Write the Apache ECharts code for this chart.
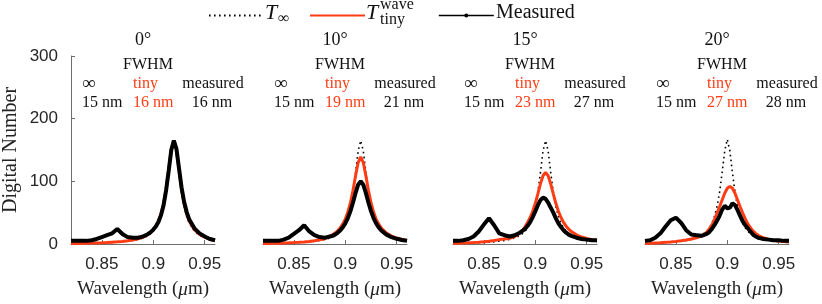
<!DOCTYPE html>
<html><head><meta charset="utf-8">
<script src="https://cdn.jsdelivr.net/npm/echarts@6/dist/echarts.min.js"></script>
<style>html,body{margin:0;padding:0;background:#fff}#c{width:822px;height:304px}</style>
</head><body><div id="c"></div>
<script>
// ---------- data ----------
const wavelength = [0.820,0.825,0.830,0.835,0.840,0.845,0.850,0.855,0.860,0.865,0.870,0.875,0.880,
  0.8825,0.885,0.8875,0.890,0.8925,0.895,0.8975,0.900,0.9025,0.905,0.9075,0.910,0.9125,0.915,0.9175,0.920,0.9225,0.925,0.9275,0.930,0.9325,0.935,
  0.940,0.945,0.950,0.955,0.960];
const angleLabels = ['0°','10°','15°','20°'];
const fwhmInf = [15,15,15,15];
const fwhmTiny = [16,19,23,27];
const fwhmMeasured = [16,21,27,28];
const xTicks = [0.85,0.9,0.95];
const yTicks = [0,100,200,300];

// 0 deg
const tInf0 = [0.9,1.0,1.1,1.3,1.4,1.6,1.9,2.2,2.5,3.0,3.6,4.5,5.6,6.3,7.2,8.3,9.7,11.4,13.6,16.5,20.3,25.6,33,43.7,59.4,82.5,114,148.5,165,148.5,114,82.5,59.4,43.7,33,20.3,13.6,9.7,7.2,5.6];
const tTiny0 = [0.5,0.7,0.9,1.1,1.4,1.7,2.0,2.4,2.9,3.4,4.1,5.1,6.4,7.2,8.2,9.4,11.0,12.9,15.3,18.5,22.8,28.5,36.5,48,64.4,87.8,118.7,150.3,165,150.3,118.7,87.8,64.4,48,36.5,22.8,15.3,11.0,7.5,5.5];
const meas0 = [5,5,5,5,6,8,11,14,17,24,16,11,10,10,10,11,12,14,16,19,23,28,35,46,62,86,117,150,165,152,121,90,67,51,39,25,17,12,8,6];
// 10 deg
const tInf1 = [1.0,1.1,1.3,1.4,1.6,1.9,2.2,2.5,3.0,3.6,4.5,5.6,7.2,8.3,9.7,11.4,13.6,16.5,20.3,25.6,33,43.7,59.4,82.5,114,148.5,165,148.5,114,82.5,59.4,43.7,33,25.6,20.3,13.6,9.7,7.2,5.6,4.5];
const tTiny1 = [0.6,0.8,1.0,1.2,1.5,1.8,2.2,2.7,3.3,4.1,5.2,6.8,8.5,10.2,12.2,14.5,17.5,21.0,25.6,31.7,39.8,50.9,65.9,85.6,108.8,130,139,130,108.8,85.6,65.9,50.9,39.8,31.7,25.6,17.5,12.7,9.5,7.2,5.6];
const meas1 = [5,5,5,5,7,10,16,22,30,20,14,11,10,11,12,13,15,17.9,21.6,26.5,32.9,41.4,52.4,66.2,81.5,94.6,100,94.6,81.5,66.2,52.4,41.4,32.9,26.5,21.6,15,10.9,8.3,6.4,5.2];
// 15 deg
const tInf2 = [1.1,1.3,1.4,1.6,1.9,2.2,2.5,3.0,3.6,4.5,5.6,7.2,9.7,11.4,13.6,16.5,20.3,25.6,33,43.7,59.4,82.5,114,148.5,165,148.5,114,82.5,59.4,43.7,33,25.6,20.3,16.5,13.6,9.7,7.2,5.6,4.5,3.6];
const tTiny2 = [0.8,1.1,1.4,1.8,2.3,2.9,3.6,4.5,5.7,7.0,8.0,9.0,12.0,14.5,17.5,21.5,27.5,34.4,42.2,52.3,64.9,80,95.9,108.9,114,108.9,95.9,80,64.9,52.3,42.2,34.4,28.4,23.6,19.9,14.6,11.1,8.7,7.0,5.7];
const meas2 = [5,5,6,8,12,20,31,41,30,17,14,12,14,16,18,21,24,29,35,43,52,62,70,74,72,66,58,50,41,33,27,22,18,15,13,10,8,7,6,6];
// 20 deg
const tInf3 = [1.4,1.6,1.9,2.2,2.5,3.0,3.6,4.5,5.6,7.2,9.7,13.6,20.3,25.6,33,43.7,59.4,82.5,114,148.5,167,148.5,114,82.5,59.4,43.7,33,25.6,20.3,16.5,13.6,11.4,9.7,8.3,7.2,5.6,4.5,3.6,3.0,2.5];
const tTiny3 = [0.6,1.0,1.5,2.0,2.6,3.3,4.2,5.2,6.5,8,10,13,19,24,30,39,49.5,59.4,70.3,80.9,88.9,92,88.9,80.9,70.3,59.4,49.5,40,32,26,21,17,14,12,10,7.5,5.8,4.6,3.8,3.2];
const meas3 = [5,6,10,17,28,38,42,34,22,15,14,13,16,19,24,30,37,45,55,61,57,58,65,62,54,45,36,30,25,20,15,12,10,9,8,7,6,6,5,5];

const tInfAll = [tInf0,tInf1,tInf2,tInf3];
const tTinyAll = [tTiny0,tTiny1,tTiny2,tTiny3];
const measAll = [meas0,meas1,meas2,meas3];

// ---------- layout / style ----------
const RED = '#ff3c14';
const SERIF = 'Liberation Serif';
const SANS = 'Liberation Sans';
const lefts = [71, 263, 453, 645];
const GW = 144, GT = 56, GH = 191;
const AX = '#6e6e6e';

const pairs = arr => wavelength.map((w,i)=>[w, arr[i]]);

const grids = [], xAxes = [], yAxes = [], series = [], graphics = [];
lefts.forEach((L,p)=>{
  grids.push({left:L, top:GT, width:GW, height:GH, containLabel:false});
  xAxes.push({
    gridIndex:p, type:'value', min:0.82, max:0.96,
    axisLine:{show:true, onZero:false, lineStyle:{color:AX, width:1}},
    axisTick:{show:true, inside:true, length:4, customValues:xTicks, lineStyle:{color:AX}},
    axisLabel:{customValues:xTicks, fontFamily:SANS, fontSize:17, color:'#262626', margin:12,
      formatter: v => String(v)},
    splitLine:{show:false},
    name:'{n|Wavelength (}{i|μ}{n|m)}', nameLocation:'middle', nameGap:36,
    nameTextStyle:{rich:{
      n:{fontFamily:SERIF, fontSize:19, color:'#222'},
      i:{fontFamily:SERIF, fontSize:19, fontStyle:'italic', color:'#222'}}}
  });
  if (p===0) {
    yAxes.push({gridIndex:p, type:'value', min:0, max:300, interval:100,
      axisLine:{show:true, lineStyle:{color:AX, width:1}},
      axisTick:{show:true, inside:true, length:4, lineStyle:{color:AX}},
      axisLabel:{fontFamily:SANS, fontSize:17, color:'#262626', margin:13},
      splitLine:{show:false},
      name:'Digital Number', nameLocation:'middle', nameGap:50,
      nameTextStyle:{fontFamily:SERIF, fontSize:20, color:'#222'}});
  } else {
    yAxes.push({gridIndex:p, type:'value', min:0, max:300, show:false, splitLine:{show:false}});
  }
  series.push({name:'Tinf', type:'line', xAxisIndex:p, yAxisIndex:p, data:pairs(tInfAll[p]),
    symbol:'none', lineStyle:{color:'#000', width:1.6, type:[1.6,3.4]}, itemStyle:{color:'#000'}, z:2});
  series.push({name:'Ttiny', type:'line', xAxisIndex:p, yAxisIndex:p, data:pairs(tTinyAll[p]),
    symbol:'none', lineStyle:{color:RED, width:3}, itemStyle:{color:RED}, z:3});
  series.push({name:'Measured', type:'line', xAxisIndex:p, yAxisIndex:p, data:pairs(measAll[p]),
    symbol:'circle', symbolSize:4, showSymbol:false, lineStyle:{color:'#000', width:4},
    itemStyle:{color:'#000'}, z:4});

  const tf = {fontFamily:SERIF, fontSize:16, fill:'#111'};
  graphics.push({type:'text', x:L+72, y:40, style:Object.assign({}, tf, {text:angleLabels[p], fontSize:18, align:'center', verticalAlign:'middle'})});
  graphics.push({type:'text', x:L+77, y:65, style:Object.assign({}, tf, {text:'FWHM', align:'center', verticalAlign:'middle'})});
  graphics.push({type:'text', x:L+11, y:84, style:Object.assign({}, tf, {text:'∞', fontSize:19, align:'left', verticalAlign:'middle'})});
  graphics.push({type:'text', x:L+62, y:84, style:Object.assign({}, tf, {text:'tiny', fill:RED, align:'left', verticalAlign:'middle'})});
  graphics.push({type:'text', x:L+142, y:84, style:Object.assign({}, tf, {text:'measured', align:'center', verticalAlign:'middle'})});
  graphics.push({type:'text', x:L+11, y:103, style:Object.assign({}, tf, {text:fwhmInf[p]+' nm', align:'left', verticalAlign:'middle'})});
  graphics.push({type:'text', x:L+62, y:103, style:Object.assign({}, tf, {text:fwhmTiny[p]+' nm', fill:RED, align:'left', verticalAlign:'middle'})});
  graphics.push({type:'text', x:L+141, y:103, style:Object.assign({}, tf, {text:fwhmMeasured[p]+' nm', align:'center', verticalAlign:'middle'})});
});

// legend labels (math-style text)
graphics.push({type:'text', x:265, y:13, style:{text:'T', fontFamily:SERIF, fontStyle:'italic', fontSize:22, fill:'#111', align:'left', verticalAlign:'middle'}});
graphics.push({type:'text', x:278, y:19, style:{text:'∞', fontFamily:SERIF, fontSize:16, fill:'#111', align:'left', verticalAlign:'middle'}});
graphics.push({type:'text', x:366, y:13, style:{text:'T', fontFamily:SERIF, fontStyle:'italic', fontSize:22, fill:'#111', align:'left', verticalAlign:'middle'}});
graphics.push({type:'text', x:380, y:5, style:{text:'wave', fontFamily:SERIF, fontSize:16, fill:'#111', align:'left', verticalAlign:'middle'}});
graphics.push({type:'text', x:380, y:20, style:{text:'tiny', fontFamily:SERIF, fontSize:16, fill:'#111', align:'left', verticalAlign:'middle'}});
graphics.push({type:'text', x:496, y:13, style:{text:'Measured', fontFamily:SERIF, fontSize:20, fill:'#111', align:'left', verticalAlign:'middle'}});

const legBase = {orient:'horizontal', top:8, itemWidth:55, itemHeight:5, itemGap:0,
  formatter:()=>'', textStyle:{fontSize:10}, selectedMode:false};
const option = {
  animation:false,
  backgroundColor:'#fff',
  grid:grids, xAxis:xAxes, yAxis:yAxes, series:series,
  legend:[
    Object.assign({}, legBase, {left:203, data:[{name:'Tinf', itemStyle:{opacity:0}}]}),
    Object.assign({}, legBase, {left:304, data:[{name:'Ttiny', itemStyle:{opacity:0}}]}),
    Object.assign({}, legBase, {left:433, data:[{name:'Measured', lineStyle:{width:1.6}}]})
  ],
  graphic:graphics
};
const chart = echarts.init(document.getElementById('c'), null, {renderer:'canvas'});
chart.setOption(option);
</script>
</body></html>
